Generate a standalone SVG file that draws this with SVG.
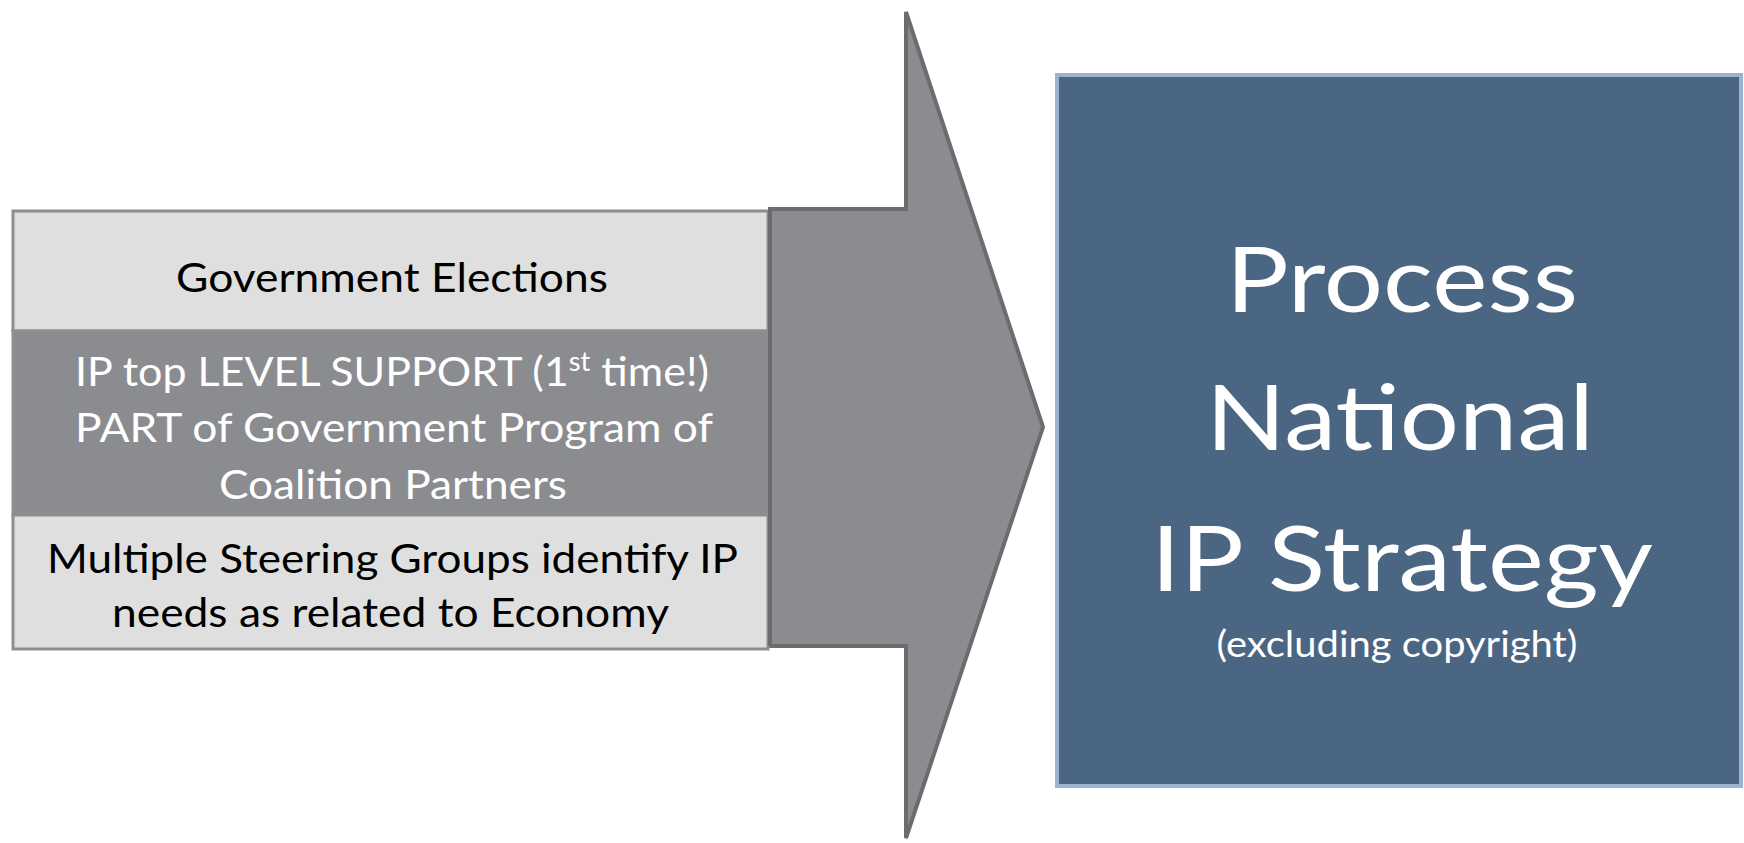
<svg xmlns="http://www.w3.org/2000/svg" width="1744" height="843" viewBox="0 0 1744 843">
  <style>
    .row-light { fill: #dfdfdf; stroke: #8e8e8e; stroke-width: 3; }
    .row-dark { fill: #8b8c90; stroke: #8e8e8e; stroke-width: 3; }
    .arrow { fill: #8b8c90; stroke: #6b6c70; stroke-width: 4; stroke-linejoin: miter; }
    .goal { fill: #4b6682; stroke: #9cb2cf; stroke-width: 4; }
    .t { font-family: Lato, "Open Sans", "Liberation Sans", sans-serif; text-anchor: middle; }
    .dark { fill: #000000; font-size: 41px; }
    .light { fill: #ffffff; font-size: 41px; }
    .big { fill: #ffffff; font-size: 91px; }
    .small { fill: #ffffff; font-size: 37px; }
  </style>
  <rect width="1744" height="843" fill="#ffffff"/>
  <g id="connectors">
    <polygon class="arrow" points="770,209 906,209 906,12 1043,427 906,838 906,646 770,646"/>
  </g>
  <g id="row-elections">
    <rect class="row-light" x="13" y="211" width="755" height="120"/>
    <text class="t dark" x="392" y="292" textLength="432" lengthAdjust="spacingAndGlyphs">Government Elections</text>
  </g>
  <g id="row-support">
    <rect class="row-dark" x="13" y="331" width="755" height="184"/>
    <text class="t light" x="392" y="386" textLength="634" lengthAdjust="spacingAndGlyphs">IP top LEVEL SUPPORT (1<tspan font-size="26" dy="-15">st</tspan><tspan dy="15"> time!)</tspan></text>
    <text class="t light" x="394" y="442" textLength="638" lengthAdjust="spacingAndGlyphs">PART of Government Program of</text>
    <text class="t light" x="393" y="499" textLength="348" lengthAdjust="spacingAndGlyphs">Coalition Partners</text>
  </g>
  <g id="row-steering">
    <rect class="row-light" x="13" y="515" width="755" height="134"/>
    <text class="t dark" x="392.5" y="573" textLength="691" lengthAdjust="spacingAndGlyphs">Multiple Steering Groups identify IP</text>
    <text class="t dark" x="390.5" y="627" textLength="557" lengthAdjust="spacingAndGlyphs">needs as related to Economy</text>
  </g>
  <g id="arrow-overlay">
    <polyline fill="none" stroke="#6b6c70" stroke-width="4" points="770,209 770,646"/>
  </g>
  <g id="national-ip-strategy">
    <rect class="goal" x="1057" y="75" width="684" height="711"/>
    <text class="t big" x="1402" y="312" textLength="352" lengthAdjust="spacingAndGlyphs">Process</text>
    <text class="t big" x="1400" y="450" textLength="388" lengthAdjust="spacingAndGlyphs">National</text>
    <text class="t big" x="1402" y="591" textLength="502" lengthAdjust="spacingAndGlyphs">IP Strategy</text>
    <text class="t small" x="1397" y="657" textLength="361" lengthAdjust="spacingAndGlyphs">(excluding copyright)</text>
  </g>
</svg>
